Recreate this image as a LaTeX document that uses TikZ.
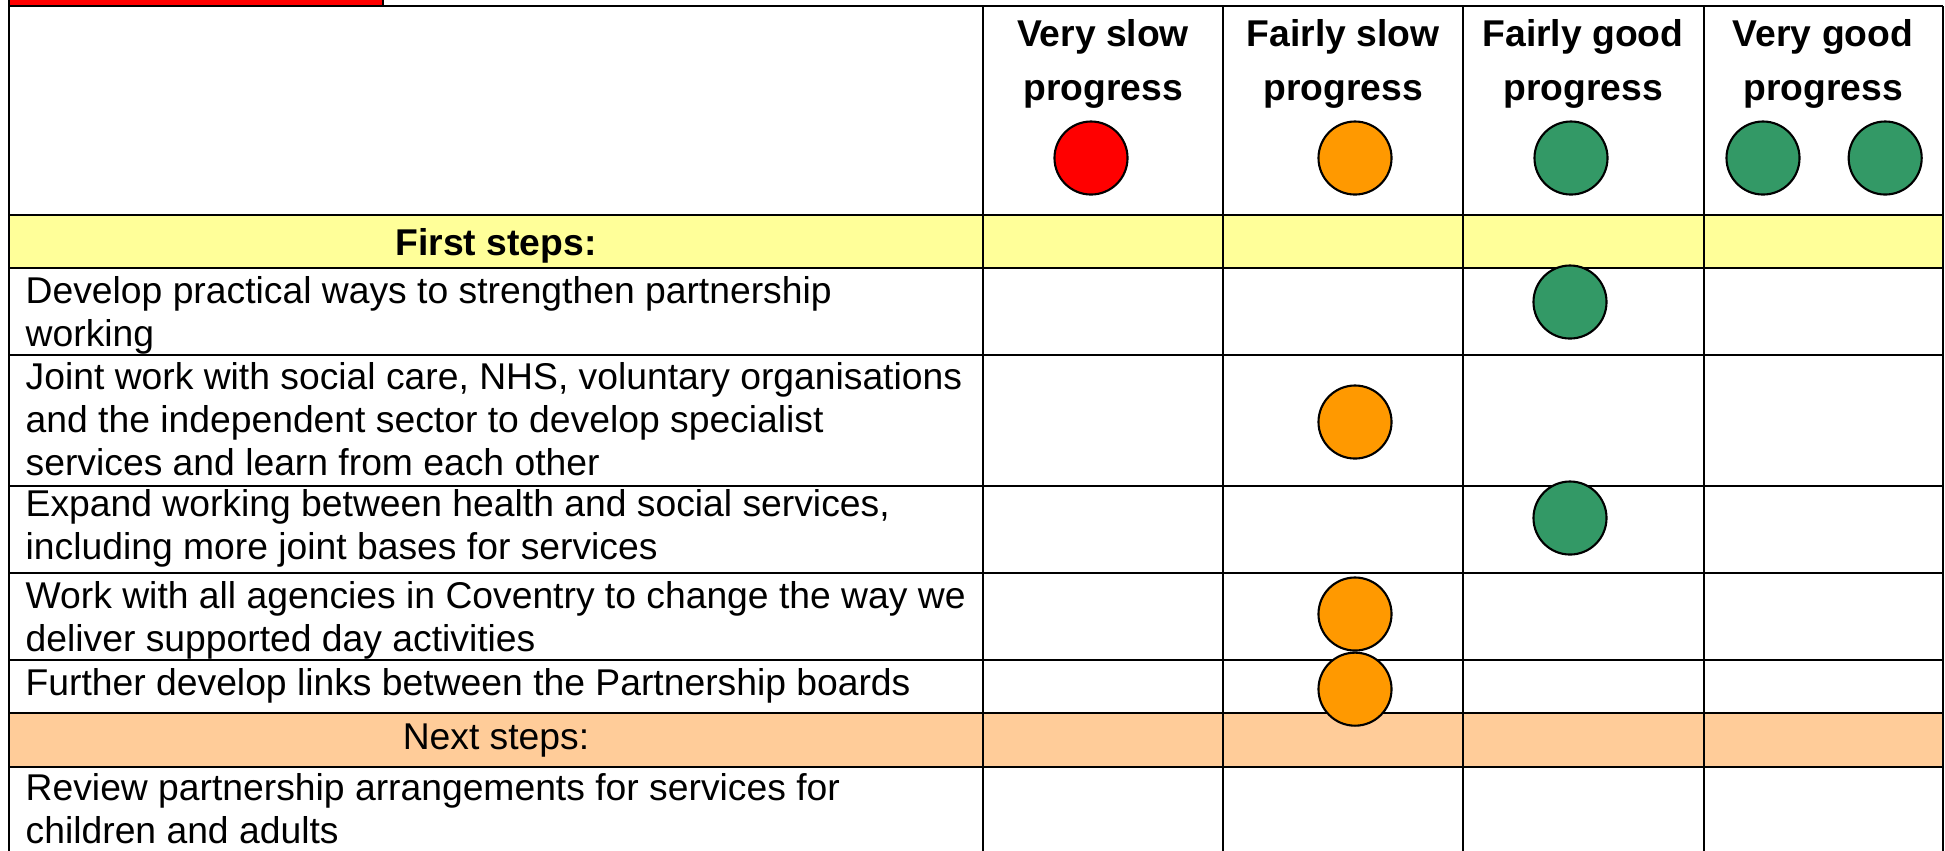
\documentclass[tikz,border=0pt]{standalone}
\usepackage{fontspec}
\setmainfont{Liberation Sans}
\usepackage{tikz}
\usetikzlibrary{positioning}
\definecolor{dotred}{HTML}{FF0000}
\definecolor{dotorange}{HTML}{FF9900}
\definecolor{dotgreen}{HTML}{339966}
\definecolor{bandyellow}{HTML}{FFFF99}
\definecolor{bandorange}{HTML}{FFCC99}
\tikzset{
  tabline/.style={line width=0.6pt},
  lamp/.style={circle, draw, line width=0.6pt, minimum size=0.73cm, inner sep=0pt},
  head/.style={align=center, anchor=base, inner sep=0pt, font=\bfseries\fontsize{10.6pt}{15.1pt}\selectfont},
  item/.style={align=left, anchor=base west, inner sep=0pt, font=\fontsize{10.6pt}{12.2pt}\selectfont},
}

\begin{document}
\begin{tikzpicture}[x=0.01cm, y=-0.01cm]
  \useasboundingbox (0,0) rectangle (1945,850);
  \clip (0,0) rectangle (1945,850);
%% bands
  \fill[bandyellow] (9,215) rectangle (1943,268);
  \fill[bandorange] (9,713) rectangle (1943,767);
  \draw[tabline, fill=dotred] (9,-10) rectangle (383,6);
%% table lines
  \foreach \y in {6,215,268,355,486,573,660,713,767}
    \draw[tabline] (9,\y) -- (1943,\y);
  \foreach \x in {9,983,1223,1463,1704,1943}
    \draw[tabline] (\x,6) -- (\x,860);
%% header (base = last line)
  \node[head] (hvs) at (1103,100) {Very slow\\progress};
  \node[head] (hfs) at (1343,100) {Fairly slow\\progress};
  \node[head] (hfg) at (1583,100) {Fairly good\\progress};
  \node[head] (hvg) at (1823,100) {Very good\\progress};
  \node[lamp, fill=dotred] (dvs) at (1091,158) {};
  \node[lamp, fill=dotorange] (dfs) at (1355,158) {};
  \node[lamp, fill=dotgreen] (dfg) at (1571,158) {};
  \node[lamp, fill=dotgreen] (dvg) at (1763,158) {};
  \node[lamp, fill=dotgreen, right=0.47cm of dvg] (dvgb) {};
%% first steps
  \node[head] (first) at (496,255) {First steps:};
  \node[item] (r1) at (25,346) {Develop practical ways to strengthen partnership\\working};
  \node[item] (r2) at (25,475) {Joint work with social care, NHS, voluntary organisations\\and the independent sector to develop specialist\\services and learn from each other};
  \node[item] (r3) at (25,559) {Expand working between health and social services,\\including more joint bases for services};
  \node[item] (r4) at (25,651) {Work with all agencies in Coventry to change the way we\\deliver supported day activities};
  \node[item] (r5) at (25,695) {Further develop links between the Partnership boards};
  \node[lamp, fill=dotgreen] (s1) at (1570,302) {};
  \node[lamp, fill=dotorange] (s2) at (1355,422) {};
  \node[lamp, fill=dotgreen] (s3) at (1570,518) {};
  \node[lamp, fill=dotorange] (s4) at (1355,614) {};
  \node[lamp, fill=dotorange, below=0pt of s4] (s5) {};
%% next steps
  \node[item, anchor=base] (next) at (496,749) {Next steps:};
  \node[item] (r6) at (25,843) {Review partnership arrangements for services for\\children and adults};
\end{tikzpicture}
\end{document}
